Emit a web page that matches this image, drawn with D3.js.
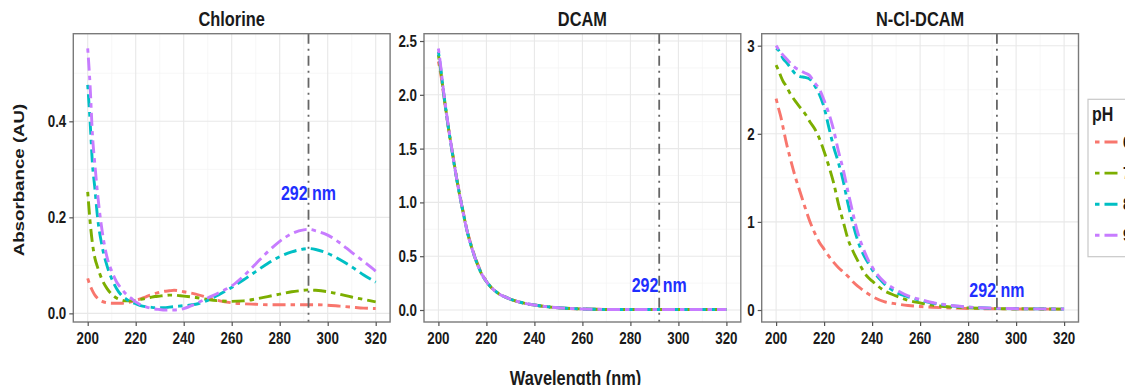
<!DOCTYPE html>
<html><head><meta charset="utf-8">
<script src="https://cdn.jsdelivr.net/npm/d3@7"></script>
<style>body{margin:0;background:#fff;overflow:hidden;} svg{display:block;}</style>
</head><body><svg id="c" width="1125" height="385"></svg>
<script>
// ---------------- data ----------------
const wavelengths = [200,201,202,203,204,206,208,210,212,214,216,218,220,222,224,226,228,230,232,234,236,238,240,245,250,255,260,265,270,275,280,285,290,292,295,300,305,310,315,320];
const phLevels = ["6","7","8","9"];
const phColors = ["#F8766D","#7CAE00","#00BFC4","#C77CFF"];
const panelTitles = ["Chlorine","DCAM","N-Cl-DCAM"];

const chlorinePH6 = [0.073,0.058,0.047,0.038,0.032,0.025,0.022,0.021,0.021,0.021,0.022,0.024,0.027,0.030,0.034,0.038,0.041,0.044,0.046,0.047,0.048,0.047,0.045,0.040,0.033,0.026,0.022,0.020,0.019,0.018,0.018,0.018,0.018,0.018,0.018,0.017,0.015,0.013,0.011,0.010];
const chlorinePH7 = [0.253,0.191,0.145,0.115,0.098,0.070,0.052,0.040,0.032,0.028,0.026,0.026,0.027,0.029,0.031,0.033,0.035,0.036,0.037,0.038,0.038,0.037,0.036,0.033,0.029,0.026,0.025,0.026,0.030,0.035,0.040,0.045,0.048,0.049,0.048,0.045,0.040,0.034,0.029,0.024];
const chlorinePH8 = [0.476,0.400,0.310,0.260,0.205,0.140,0.100,0.072,0.052,0.038,0.030,0.024,0.020,0.016,0.014,0.013,0.012,0.012,0.012,0.013,0.014,0.015,0.016,0.019,0.027,0.040,0.054,0.070,0.087,0.104,0.118,0.128,0.134,0.135,0.133,0.125,0.112,0.097,0.080,0.065];
const chlorinePH9 = [0.552,0.474,0.370,0.310,0.255,0.172,0.118,0.088,0.066,0.052,0.040,0.032,0.024,0.018,0.014,0.011,0.009,0.008,0.007,0.007,0.007,0.008,0.010,0.020,0.032,0.044,0.057,0.078,0.103,0.128,0.150,0.166,0.174,0.175,0.172,0.163,0.147,0.127,0.108,0.088];

const dcamPH6 = [2.31,2.19,2.03,1.87,1.72,1.44,1.18,0.95,0.74,0.58,0.45,0.34,0.27,0.21,0.17,0.14,0.12,0.10,0.085,0.072,0.062,0.053,0.046,0.031,0.021,0.014,0.010,0.007,0.005,0.004,0.004,0.004,0.004,0.004,0.004,0.004,0.004,0.004,0.004,0.004];
const dcamPH7 = [2.37,2.22,2.04,1.88,1.72,1.44,1.17,0.94,0.73,0.57,0.44,0.335,0.265,0.21,0.17,0.14,0.12,0.10,0.085,0.072,0.062,0.053,0.046,0.031,0.021,0.014,0.010,0.007,0.005,0.004,0.004,0.004,0.004,0.004,0.004,0.004,0.004,0.004,0.004,0.004];
const dcamPH8 = [2.40,2.24,2.05,1.88,1.72,1.43,1.17,0.94,0.73,0.57,0.44,0.335,0.265,0.21,0.17,0.14,0.12,0.10,0.085,0.072,0.062,0.053,0.046,0.031,0.021,0.014,0.010,0.007,0.005,0.004,0.004,0.004,0.004,0.004,0.004,0.004,0.004,0.004,0.004,0.004];
const dcamPH9 = [2.43,2.26,2.06,1.89,1.73,1.44,1.17,0.94,0.73,0.57,0.44,0.335,0.265,0.21,0.17,0.14,0.12,0.10,0.085,0.072,0.062,0.053,0.046,0.031,0.021,0.014,0.010,0.007,0.005,0.004,0.004,0.004,0.004,0.004,0.004,0.004,0.004,0.004,0.004,0.004];

const nclPH6 = [2.40,2.29,2.19,2.06,1.93,1.71,1.51,1.34,1.17,1.01,0.88,0.77,0.69,0.61,0.54,0.48,0.43,0.38,0.32,0.27,0.23,0.19,0.155,0.095,0.070,0.052,0.040,0.032,0.026,0.021,0.018,0.016,0.014,0.014,0.013,0.012,0.011,0.011,0.010,0.010];
const nclPH7 = [2.78,2.72,2.65,2.59,2.55,2.45,2.37,2.30,2.23,2.14,2.06,1.95,1.80,1.63,1.44,1.20,1.00,0.80,0.67,0.56,0.46,0.38,0.33,0.22,0.16,0.11,0.08,0.055,0.040,0.030,0.024,0.020,0.017,0.016,0.015,0.014,0.013,0.012,0.011,0.010];
const nclPH8 = [2.97,2.95,2.90,2.85,2.82,2.75,2.68,2.65,2.64,2.62,2.55,2.45,2.30,2.07,1.85,1.67,1.46,1.20,0.98,0.79,0.65,0.55,0.46,0.30,0.20,0.15,0.11,0.080,0.058,0.042,0.032,0.025,0.020,0.019,0.017,0.015,0.014,0.013,0.012,0.011];
const nclPH9 = [3.00,2.96,2.92,2.89,2.86,2.80,2.75,2.72,2.69,2.66,2.58,2.51,2.38,2.23,2.04,1.80,1.59,1.34,1.10,0.88,0.72,0.59,0.49,0.32,0.23,0.16,0.12,0.085,0.062,0.045,0.034,0.026,0.021,0.020,0.018,0.016,0.014,0.013,0.012,0.011];

const xTickValues = [200,220,240,260,280,300,320];
const xMinorValues = [210,230,250,270,290,310];
const yTicksChlorine = [0,0.2,0.4];
const yTickLabelsChlorine = ["0.0","0.2","0.4"];
const yMinorChlorine = [0.1,0.3,0.5];
const yTicksDcam = [0,0.5,1.0,1.5,2.0,2.5];
const yTickLabelsDcam = ["0.0","0.5","1.0","1.5","2.0","2.5"];
const yMinorDcam = [0.25,0.75,1.25,1.75,2.25];
const yTicksNcl = [0,1,2,3];
const yTickLabelsNcl = ["0","1","2","3"];
const yMinorNcl = [0.5,1.5,2.5];
const markerWavelength = 292;
const markerText = "292 nm";
const markerTextY = [0.25,0.23,0.23];
const xTitle = "Wavelength (nm)";
const yTitle = "Absorbance (AU)";
const legendTitle = "pH";

// ---------------- layout ----------------
const FONT = "'Liberation Sans', Arial, sans-serif";
const SQ = 0.82; // horizontal squeeze of the reference
const plotTop = 33.7, plotBottom = 322;
const DASH = "4.5,5,13,5";
const panels = [
  {left:73.3, title:panelTitles[0], series:[chlorinePH6,chlorinePH7,chlorinePH8,chlorinePH9], ydom:[-0.018,0.5825], yt:yTicksChlorine, ytl:yTickLabelsChlorine, ym:yMinorChlorine},
  {left:424,  title:panelTitles[1], series:[dcamPH6,dcamPH7,dcamPH8,dcamPH9], ydom:[-0.1115,2.568], yt:yTicksDcam, ytl:yTickLabelsDcam, ym:yMinorDcam},
  {left:761.7,title:panelTitles[2], series:[nclPH6,nclPH7,nclPH8,nclPH9], ydom:[-0.136,3.136], yt:yTicksNcl, ytl:yTickLabelsNcl, ym:yMinorNcl}
];
const pw = 316.8;
const svg = d3.select("#c");

function sqText(g, x, y, txt, size, anchor, fill, weight){
  return g.append("text")
    .attr("transform", `translate(${x},${y}) scale(${SQ},1)`)
    .attr("text-anchor", anchor).attr("font-family", FONT)
    .attr("font-size", size).attr("font-weight", weight||"bold")
    .attr("fill", fill||"#1a1a1a").text(txt);
}

panels.forEach((p,pi)=>{
  const x = d3.scaleLinear().domain([194,326]).range([p.left, p.left+pw]);
  const y = d3.scaleLinear().domain(p.ydom).range([plotBottom, plotTop]);
  const g = svg.append("g");
  g.selectAll(".xm").data(xMinorValues).enter().append("line")
    .attr("x1",d=>x(d)).attr("x2",d=>x(d)).attr("y1",plotTop).attr("y2",plotBottom)
    .attr("stroke","#f3f3f3").attr("stroke-width",0.7);
  g.selectAll(".ym").data(p.ym).enter().append("line")
    .attr("y1",d=>y(d)).attr("y2",d=>y(d)).attr("x1",p.left).attr("x2",p.left+pw)
    .attr("stroke","#f3f3f3").attr("stroke-width",0.7);
  g.selectAll(".xg").data(xTickValues).enter().append("line")
    .attr("x1",d=>x(d)).attr("x2",d=>x(d)).attr("y1",plotTop).attr("y2",plotBottom)
    .attr("stroke","#e8e8e8").attr("stroke-width",1.1);
  g.selectAll(".yg").data(p.yt).enter().append("line")
    .attr("y1",d=>y(d)).attr("y2",d=>y(d)).attr("x1",p.left).attr("x2",p.left+pw)
    .attr("stroke","#e8e8e8").attr("stroke-width",1.1);

  const line = d3.line().x((d,i)=>x(wavelengths[i])).y(d=>y(d)).curve(d3.curveMonotoneX);
  p.series.forEach((s,si)=>{
    g.append("path").attr("d", line(s)).attr("fill","none")
      .attr("stroke", phColors[si]).attr("stroke-width",2.9)
      .attr("stroke-dasharray",DASH);
  });

  g.append("line").attr("x1",x(markerWavelength)).attr("x2",x(markerWavelength))
    .attr("y1",plotTop).attr("y2",plotBottom).attr("stroke","#666").attr("stroke-width",1.8)
    .attr("stroke-dasharray","10,5,2,5");
  sqText(g, x(markerWavelength), y(markerTextY[pi])+7, markerText, 19.5, "middle", "#1f2fff");

  g.append("rect").attr("x",p.left).attr("y",plotTop).attr("width",pw).attr("height",plotBottom-plotTop)
    .attr("fill","none").attr("stroke","#7a7a7a").attr("stroke-width",1.4);

  const ax = g.append("g").attr("transform",`translate(0,${plotBottom})`)
    .call(d3.axisBottom(x).tickValues(xTickValues).tickSize(4).tickFormat(""));
  ax.select(".domain").remove();
  ax.selectAll("line").attr("stroke","#555").attr("stroke-width",1.2);
  xTickValues.forEach(v=> sqText(g, x(v), 343.5, String(v), 16.3, "middle"));

  const ay = g.append("g").attr("transform",`translate(${p.left},0)`)
    .call(d3.axisLeft(y).tickValues(p.yt).tickSize(4).tickFormat(""));
  ay.select(".domain").remove();
  ay.selectAll("line").attr("stroke","#555").attr("stroke-width",1.2);
  p.yt.forEach((v,i)=> sqText(g, p.left-7, y(v)+5.9, p.ytl[i], 16.3, "end"));

  sqText(g, p.left+pw/2, 26, p.title, 20, "middle");
});

sqText(svg, 575.5, 384.5, xTitle, 20, "middle");
svg.append("text")
  .attr("transform","translate(19,180) scale(0.82,1) rotate(-90)")
  .attr("text-anchor","middle").attr("dominant-baseline","central")
  .attr("font-family",FONT).attr("font-weight","bold").attr("font-size",18.7)
  .attr("fill","#1a1a1a").text(yTitle);

const lg = svg.append("g");
lg.append("rect").attr("x",1088).attr("y",99.3).attr("width",80).attr("height",157.4)
  .attr("fill","#fff").attr("stroke","#c8c8c8").attr("stroke-width",1.2);
sqText(lg, 1092, 120.5, legendTitle, 19.5, "start");
phLevels.forEach((lv,i)=>{
  const yy = 142 + i*31.1;
  lg.append("line").attr("x1",1095).attr("x2",1119).attr("y1",yy).attr("y2",yy)
    .attr("stroke",phColors[i]).attr("stroke-width",2.9).attr("stroke-dasharray",DASH);
  sqText(lg, 1123, yy+5.8, lv, 16.3, "start");
});
</script>
</body></html>
